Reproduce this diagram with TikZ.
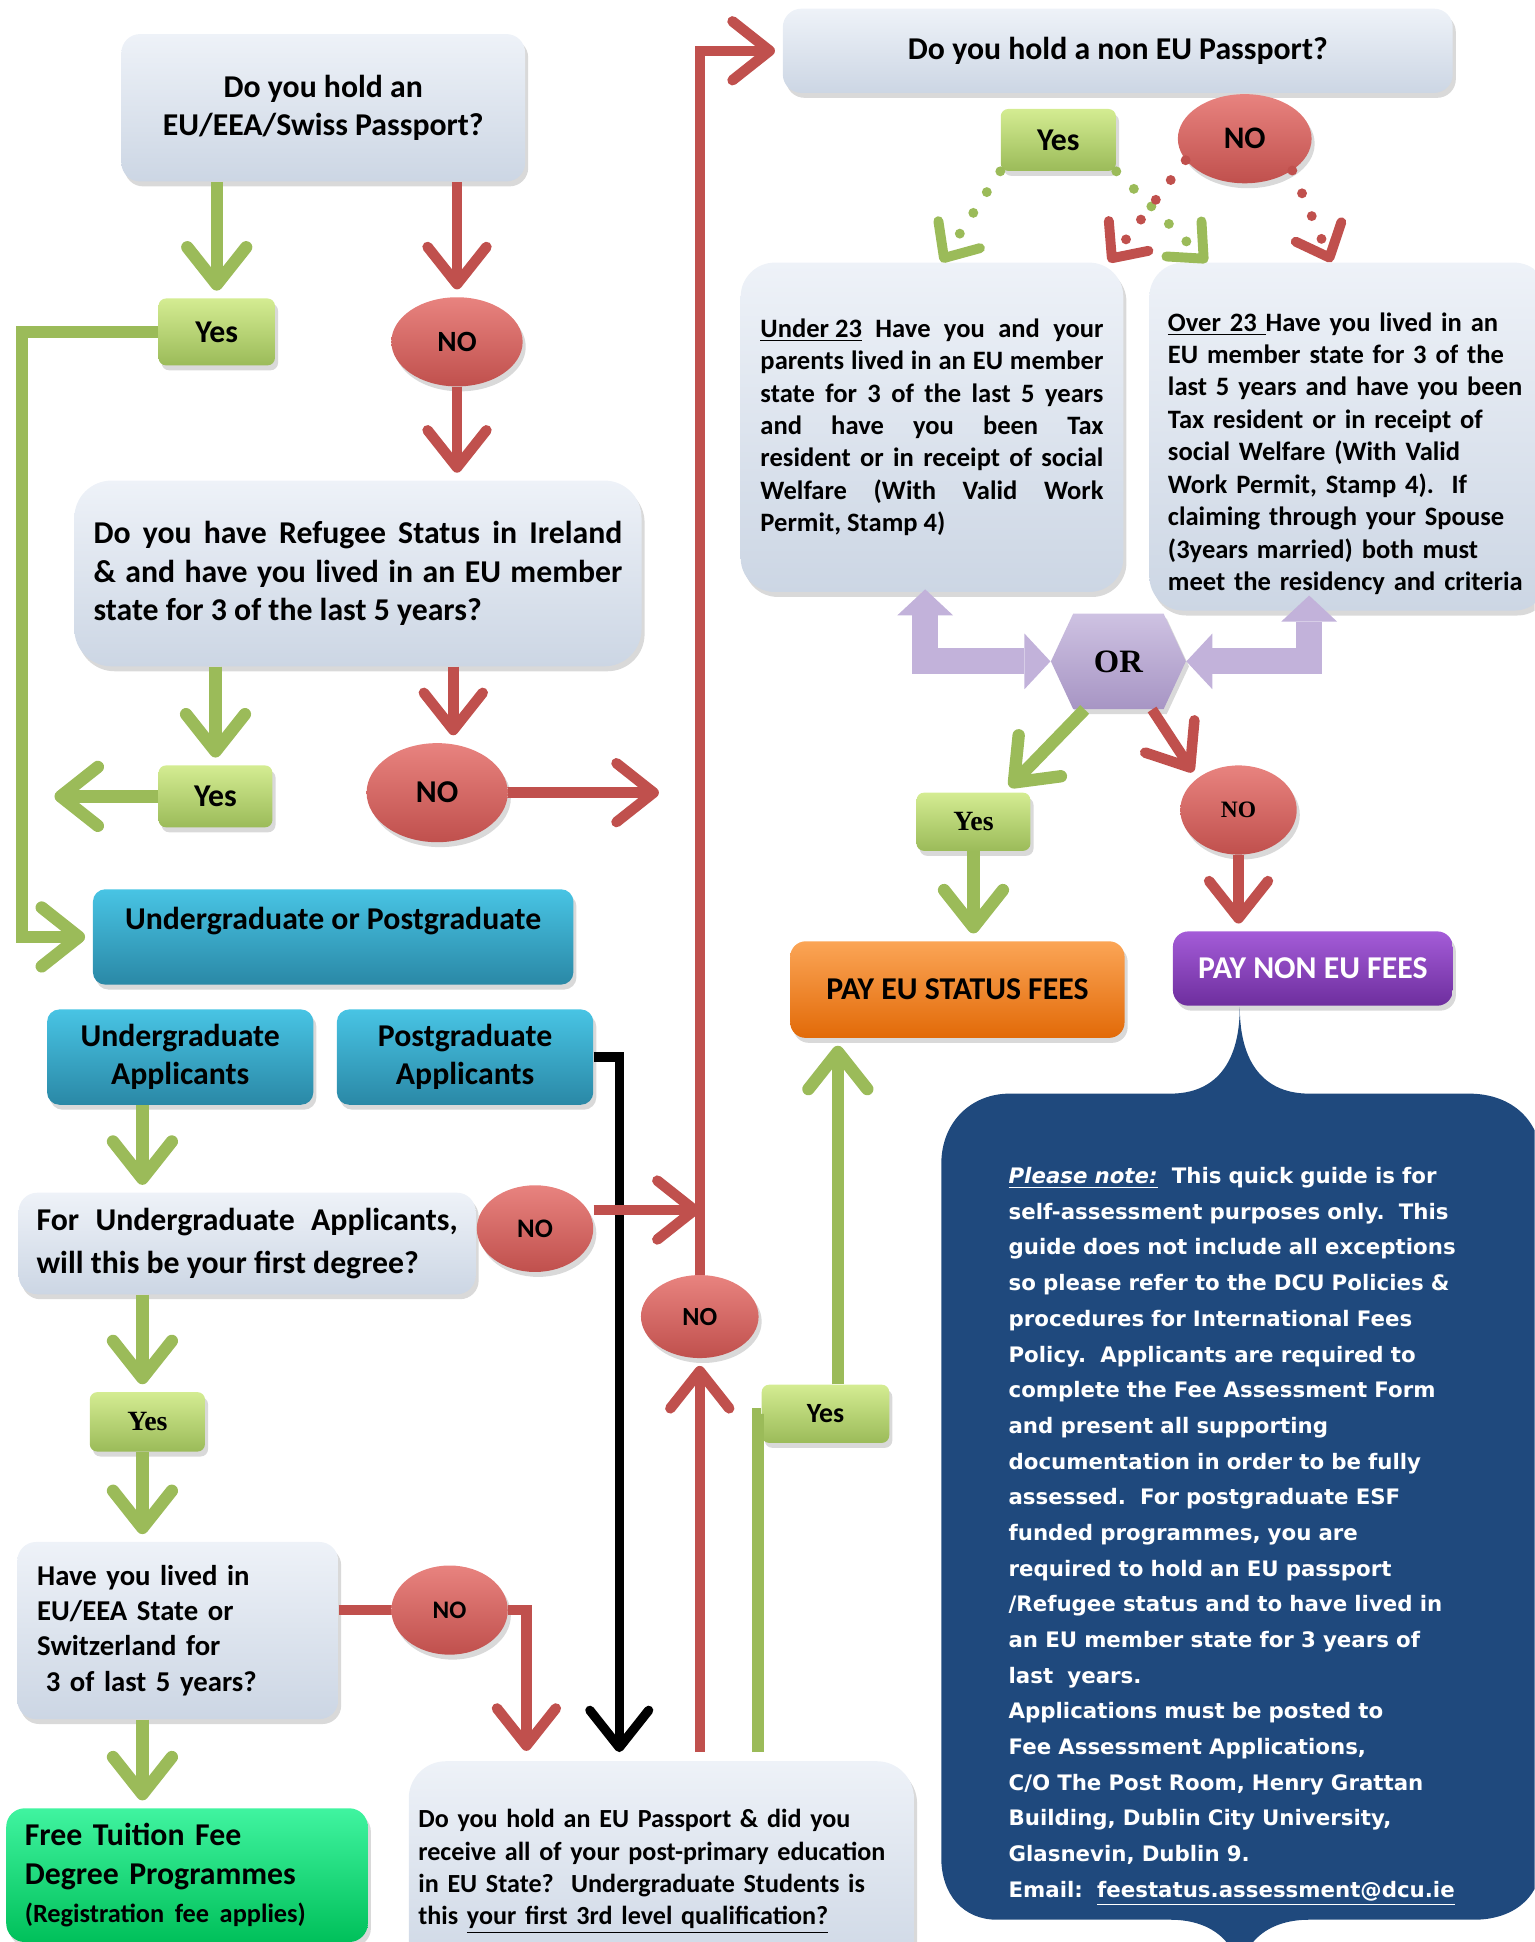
\documentclass[tikz,border=0pt]{standalone}
\usepackage{fontspec}
\setmainfont{Carlito}
\newfontfamily\notefont{DejaVu Sans}
\newfontfamily\serfont{Liberation Serif}
\usetikzlibrary{positioning,shapes.geometric,shapes.symbols,arrows.meta,shadows}

\definecolor{boxT}{HTML}{EEF2F8}
\definecolor{boxB}{HTML}{CCD6E4}
\definecolor{grn}{HTML}{9BBB59}
\definecolor{grnT}{HTML}{D4EC92}
\definecolor{rd}{HTML}{C0504D}
\definecolor{rdT}{HTML}{E8837F}
\definecolor{tealT}{HTML}{48C4E4}
\definecolor{tealB}{HTML}{2A88A6}
\definecolor{freeT}{HTML}{40F4A0}
\definecolor{freeB}{HTML}{00C05A}
\definecolor{orT}{HTML}{FBA556}
\definecolor{orB}{HTML}{E26A08}
\definecolor{puT}{HTML}{A45CD8}
\definecolor{puB}{HTML}{6E2E9E}
\definecolor{hexT}{HTML}{CEC2E2}
\definecolor{hexB}{HTML}{A795C4}
\definecolor{lilac}{HTML}{C2B2DA}
\definecolor{navy}{HTML}{1F497D}

\newcommand{\bigtxt}{\fontsize{14.6}{17.6}\selectfont}
\newcommand{\midtxt}{\fontsize{12.2}{14.9}\selectfont}
\newcommand{\notetxt}{\fontsize{9.8}{16.4}\selectfont}

\tikzset{
  shad/.style={drop shadow={shadow xshift=0.05cm,shadow yshift=-0.08cm,opacity=0.3}},
  qbox/.style={rectangle,rounded corners=0.3cm,top color=boxT,bottom color=boxB,shad,inner sep=0pt,align=center,font=\bfseries\bigtxt},
  cardbox/.style={qbox,rounded corners=0.55cm,font=\bfseries\midtxt},
  yesbox/.style={rectangle,rounded corners=0.12cm,top color=grnT,bottom color=grn,shad,inner sep=0pt,font=\bfseries\bigtxt},
  nobox/.style={ellipse,top color=rdT,bottom color=rd,shad,inner sep=0pt,font=\bfseries\bigtxt},
  tealbox/.style={rectangle,rounded corners=0.2cm,top color=tealT,bottom color=tealB,shad,inner sep=0pt,align=center,font=\bfseries\bigtxt},
  freebox/.style={rectangle,rounded corners=0.3cm,top color=freeT,bottom color=freeB,shad,inner sep=0pt,font=\bfseries\bigtxt},
  feebox/.style={rectangle,rounded corners=0.25cm,shad,inner sep=0pt,font=\bfseries\bigtxt},
  orbox/.style={signal,signal to=west and east,signal pointer angle=130,top color=hexT,bottom color=hexB,shad,inner sep=0pt,font=\serfont\bfseries\fontsize{15}{18}\selectfont},
  garr/.style={draw=grn,line width=0.2cm,shorten >=0.12cm,-{Straight Barb[length=0.6cm,width=0.95cm,round]}},
  rarr/.style={draw=rd,line width=0.17cm,shorten >=0.12cm,-{Straight Barb[length=0.6cm,width=0.95cm,round]}},
  blarr/.style={draw=black,line width=0.15cm,-{Straight Barb[length=0.6cm,width=0.95cm,round]}},
  gline/.style={draw=grn,line width=0.2cm},
  rline/.style={draw=rd,line width=0.17cm},
  gdot/.style={draw=grn,line width=0.16cm,line cap=round,dash pattern=on 0pt off 0.4cm,-{Straight Barb[length=0.45cm,width=0.8cm,round]}},
  rdot/.style={gdot,draw=rd},
  lil/.style={draw=lilac,line width=0.42cm,{Triangle[length=0.42cm,width=0.9cm,line width=0pt]}-{Triangle[length=0.42cm,width=0.9cm,line width=0pt]}},
  notetext/.style={text=white,inner sep=0pt,align=left,text width=7.6cm,font=\notefont\bfseries\notetxt}
}

\begin{document}
\begin{tikzpicture}[x=0.02cm,y=-0.02cm]
\useasboundingbox (0,0) rectangle (1239,1568);
\clip (0,0) rectangle (1239,1568);

\fill[navy] (760,940) .. controls (760,905) and (785,883) .. (815,883) -- (945,883)
  .. controls (980,883) and (1001,860) .. (1001,813)
  .. controls (1001,860) and (1022,883) .. (1057,883) -- (1186,883)
  .. controls (1221,883) and (1245,905) .. (1245,940) -- (1245,1500)
  .. controls (1245,1532) and (1222,1550) .. (1190,1550) -- (1057,1550)
  .. controls (1022,1550) and (1001,1570) .. (1001,1600)
  .. controls (1001,1570) and (980,1550) .. (945,1550) -- (805,1550)
  .. controls (778,1550) and (760,1530) .. (760,1500) -- cycle;

\node[qbox,minimum width=6.52cm,minimum height=2.38cm] (q1) at (261,87) {Do you hold an\\EU/EEA/Swiss Passport?};
\node[yesbox,minimum width=1.88cm,minimum height=1.08cm] (yes1) at (175,268) {Yes};
\node[nobox,minimum width=2.12cm,minimum height=1.44cm,font=\bfseries\fontsize{13.5}{16}\selectfont] (no1) at (369,276) {NO};
\node[qbox,rounded corners=0.6cm,minimum width=9.16cm,minimum height=3cm,text width=8.54cm,align=justify] (q2) at (289,463) {Do you have Refugee Status in Ireland\linebreak \& and have you lived in an EU member\linebreak state for 3 of the last 5 years?};
\node[yesbox,minimum width=1.84cm,minimum height=1cm] (yes2) at (174,643) {Yes};
\node[nobox,minimum width=2.28cm,minimum height=1.6cm] (no2) at (353,640) {NO};
\coordinate (yesout) at (38,643);
\coordinate (noout) at (538,640);

\node[tealbox,minimum width=7.76cm,minimum height=1.54cm] (ugpg) at (269,756.5) {Undergraduate or Postgraduate\rule[-0.6cm]{0pt}{0pt}};
\node[tealbox,minimum width=4.3cm,minimum height=1.54cm] (ug) at (145.5,853.5) {Undergraduate\\Applicants};
\node[tealbox,minimum width=4.14cm,minimum height=1.54cm] (pg) at (375.5,853.5) {Postgraduate\\Applicants};

\node[qbox,minimum width=7.38cm,minimum height=1.64cm,text width=6.8cm,align=justify,font=\bfseries\fontsize{14.6}{19.8}\selectfont] (q3) at (199.5,1004) {For Undergraduate Applicants,\linebreak will this be your first degree?};
\node[nobox,minimum width=1.88cm,minimum height=1.4cm,font=\bfseries\fontsize{12.3}{15}\selectfont] (no3) at (432,992) {NO};
\node[nobox,minimum width=1.9cm,minimum height=1.34cm,font=\bfseries\fontsize{12}{15}\selectfont] (no4) at (565,1063) {NO};
\node[yesbox,minimum width=1.86cm,minimum height=0.96cm,font=\serfont\bfseries\fontsize{12.8}{15}\selectfont] (yes3) at (119,1148) {Yes};
\node[qbox,minimum width=5.18cm,minimum height=2.86cm,text width=4.54cm,align=left,font=\bfseries\fontsize{13.2}{16.2}\selectfont] (q5) at (143.5,1316.5) {Have you lived in\\EU/EEA State or\\Switzerland for\\\hspace*{0.3em}3 of last 5 years?};
\node[nobox,minimum width=1.88cm,minimum height=1.44cm,font=\bfseries\fontsize{11.6}{14}\selectfont] (no5) at (363,1300) {NO};
\node[freebox,minimum width=5.84cm,minimum height=2.16cm,text width=5.24cm,align=left] (free) at (151,1514) {Free Tuition Fee\\Degree Programmes\\{\fontsize{12.1}{14.5}\selectfont(Registration fee applies)}};
\node[qbox,rounded corners=0.6cm,minimum width=8.16cm,minimum height=3.56cm,text width=7.85cm,align=left,font=\bfseries\fontsize{12}{14.9}\selectfont] (q6) at (534,1511) {Do you hold an EU Passport \& did you\\receive all of your post-primary education\\in EU State?\ \ Undergraduate Students is\\this \underline{your first 3rd level qualification?}};
\node[yesbox,minimum width=2.06cm,minimum height=0.94cm,font=\bfseries\fontsize{12.8}{15}\selectfont] (yes5) at (666.5,1141.5) {Yes};

\node[qbox,minimum width=10.82cm,minimum height=1.36cm] (q4) at (902.5,41) {Do you hold a non EU Passport?};
\node[yesbox,minimum width=1.86cm,minimum height=1cm] (yes4) at (854.5,113) {Yes};
\node[nobox,minimum width=2.16cm,minimum height=1.44cm,font=\bfseries\fontsize{14.4}{17}\selectfont] (no6) at (1005,112) {NO};
\node[cardbox,minimum width=6.18cm,minimum height=5.32cm,text width=5.54cm,align=justify] (under23) at (752.5,345) {\underline{Under 23} Have you and your\linebreak parents lived in an EU member\linebreak state for 3 of the last 5 years\linebreak and have you been Tax\linebreak resident or in receipt of social\linebreak Welfare (With Valid Work\linebreak Permit, Stamp 4)};
\node[cardbox,minimum width=6.44cm,minimum height=5.62cm,text width=5.84cm,align=left] (over23) at (1089,352.5) {\rule{0pt}{0.85cm}\underline{Over 23\ }Have you lived in an\\EU member state for 3 of the\\last 5 years and have you been\\Tax resident or in receipt of\\social Welfare (With Valid\\Work Permit, Stamp 4).\ \ If\\claiming through your Spouse\\(3years married) both must\\meet the residency and criteria};
\node[orbox,minimum width=2.18cm,minimum height=1.54cm] (OR) at (903,534) {OR};
\node[yesbox,minimum width=1.84cm,minimum height=0.94cm,font=\serfont\bfseries\fontsize{12.8}{15}\selectfont] (yesOR) at (786,663.5) {Yes};
\node[nobox,minimum width=1.88cm,minimum height=1.44cm,font=\serfont\bfseries\fontsize{10.8}{13}\selectfont] (noOR) at (1000,654) {NO};
\node[feebox,top color=orT,bottom color=orB,minimum width=5.4cm,minimum height=1.56cm] (payEU) at (773,799) {PAY EU STATUS FEES};
\node[feebox,top color=puT,bottom color=puB,text=white,minimum width=4.52cm,minimum height=1.2cm] (payNon) at (1060,782) {PAY NON EU FEES};

\node[notetext,anchor=west] (note) at (814,1240.5) {\underline{\textit{Please note:}}\ \ This quick guide is for\\self-assessment purposes only.\ \ This\\guide does not include all exceptions\\so please refer to the DCU Policies \&\\procedures for International Fees\\Policy.\ \ Applicants are required to\\complete the Fee Assessment Form\\and present all supporting\\documentation in order to be fully\\assessed.\ \ For postgraduate ESF\\funded programmes, you are\\required to hold an EU passport\\/Refugee status and to have lived in\\an EU member state for 3 years of\\last\ \ years.\\Applications must be posted to\\Fee Assessment Applications,\\C/O The Post Room, Henry Grattan\\Building, Dublin City University,\\Glasnevin, Dublin 9.\\Email:\ \ \underline{feestatus.assessment@dcu.ie}};

\coordinate (lcol) at (115,0);
\coordinate (nodown) at ([xshift=0.26cm]no2.north);
\coordinate (nothree) at ([yshift=0.3cm]no3.east);
\coordinate (blk) at ([xshift=-0.68cm,yshift=0.14cm]q6.north);
\coordinate (nofive) at ([xshift=-2.18cm,yshift=0.04cm]q6.north);
\coordinate (redup) at ([yshift=0.14cm]q6.north);
\coordinate (grnup) at ([xshift=1.56cm,yshift=0.14cm]q6.north);
\coordinate (yesup) at ([xshift=0.2cm]yes5.north);

\draw[garr] (yes1.north |- q1.south) -- (yes1.north);
\draw[rarr] (no1.north |- q1.south) -- (no1.north);
\draw[rarr] (no1.south) -- (no1.south |- q2.north);
\draw[garr] (yes1.west) -| ([xshift=-1.14cm]ugpg.west) -- (ugpg.west);
\draw[garr] (yes2.north |- q2.south) -- (yes2.north);
\draw[garr] (yes2.west) -- (yesout);
\draw[rarr] (nodown |- q2.south) -- (nodown);
\draw[rarr] (no2.east) -- (noout);
\draw[garr] (lcol |- ug.south) -- (lcol |- q3.north);
\draw[garr] (lcol |- q3.south) -- (lcol |- yes3.north);
\draw[garr] (lcol |- yes3.south) -- (lcol |- q5.north);
\draw[garr] (lcol |- q5.south) -- (lcol |- free.north);
\draw[blarr] (pg.east) -| (blk);
\draw[rarr,shorten >=0pt] (nothree) -- (nothree -| no4.north);
\draw[rarr] (no4.north) |- (q4.west);
\draw[rarr] (redup -| no4.south) -- (no4.south);
\draw[rline] (no5.west -| q5.east) -- (no5.west);
\draw[rarr] (no5.east) -| (nofive);
\draw[gline] (grnup) |- (yes5.west);
\draw[garr] (yesup) -- (yesup |- payEU.south);

\draw[gdot] (yes4.south west) -- ([xshift=0.15cm]under23.north);
\draw[gdot] (yes4.south east) -- ([xshift=0.94cm]over23.north west);
\draw[rdot] (no6.200) -- ([xshift=-0.24cm]under23.north east);
\draw[rdot] (no6.south east) -- ([xshift=-0.28cm]over23.north);

\draw[lil] (OR.west) -| ([xshift=-0.11cm,yshift=0.05cm]under23.south);
\draw[lil] (OR.east) -| ([xshift=-0.64cm,yshift=0.25cm]over23.south);
\draw[garr] (OR.235) -- ([xshift=0.5cm]yesOR.north);
\draw[rarr] (OR.-55) -- (noOR.north west);
\draw[garr] (yesOR.south) -- (yesOR.south |- payEU.north);
\draw[rarr] (noOR.south) -- (noOR.south |- payNon.north);
\end{tikzpicture}
\end{document}
